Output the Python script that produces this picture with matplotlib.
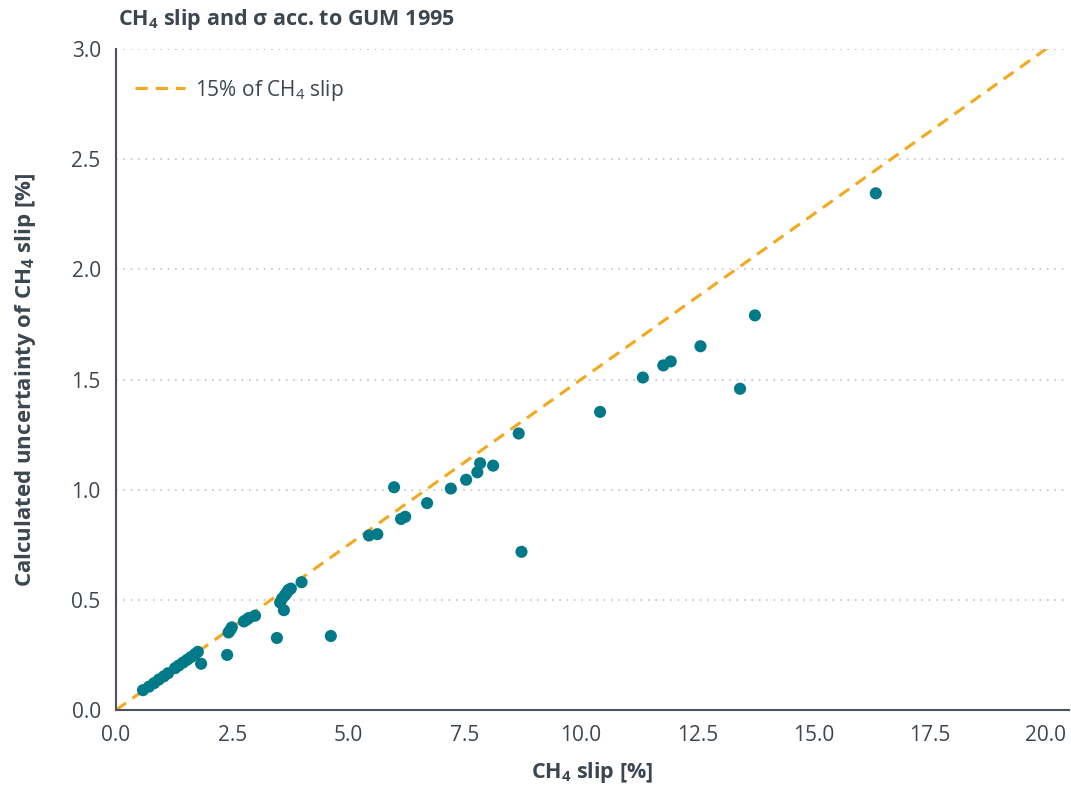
import matplotlib
matplotlib.use("Agg")
import matplotlib.pyplot as plt

plt.rcParams["font.family"] = ["Open Sans", "DejaVu Sans"]
plt.rcParams["mathtext.fontset"] = "custom"
plt.rcParams["mathtext.rm"] = "Open Sans"
plt.rcParams["mathtext.it"] = "Open Sans"
plt.rcParams["mathtext.bf"] = "Open Sans:bold"

# CH4 slip [%] and its calculated uncertainty [%]
slip = [
    0.58, 0.71, 0.82, 0.92, 1.03, 1.12, 1.27, 1.35, 1.44, 1.53, 1.61, 1.70,
    1.76, 1.83,
    2.39, 2.42, 2.46, 2.49, 2.75, 2.81, 2.86, 2.99,
    3.46, 3.53, 3.57, 3.61, 3.63, 3.67, 3.71, 3.76, 3.99, 4.62,
    5.44, 5.62, 5.98, 6.13, 6.22, 6.69, 7.20, 7.53, 7.77, 7.83, 8.11,
    8.66, 8.72,
    10.41, 11.33, 11.77, 11.93, 12.57, 13.42, 13.74, 16.34,
]
sigma = [
    0.090, 0.106, 0.122, 0.138, 0.153, 0.167, 0.190, 0.202, 0.215, 0.228,
    0.240, 0.254, 0.264, 0.210,
    0.250, 0.352, 0.364, 0.375, 0.402, 0.410, 0.418, 0.428,
    0.327, 0.488, 0.505, 0.453, 0.520, 0.532, 0.545, 0.551, 0.580, 0.336,
    0.792, 0.798, 1.011, 0.867, 0.877, 0.939, 1.005, 1.045, 1.079, 1.120,
    1.109, 1.255, 0.718,
    1.353, 1.509, 1.564, 1.582, 1.651, 1.458, 1.791, 2.345,
]

# reference line: 15 % of the slip
ref_slip = [0.0, 20.0]
ref_share = 0.15

x_ticks = [0.0, 2.5, 5.0, 7.5, 10.0, 12.5, 15.0, 17.5, 20.0]
y_ticks = [0.0, 0.5, 1.0, 1.5, 2.0, 2.5, 3.0]

TEXT = "#3c4650"
TEAL = "#007a88"
ORANGE = "#f4a81d"

W, H = 1071, 787
fig = plt.figure(figsize=(W / 100, H / 100), dpi=100)
ax = fig.add_axes([116 / W, 1 - 710 / H, (1069 - 116) / W, (710 - 49) / H])

ax.set_xlim(0, (1069 - 116) / 46.5)
ax.set_ylim(0, 3.0)

for yv in y_ticks[1:]:
    ax.axhline(yv, color="#c8c8c8", lw=1.4, ls=(0, (0.8, 3.0)), zorder=1)

ax.plot(ref_slip, [ref_share * v for v in ref_slip], color=ORANGE, lw=2.2,
        dashes=(4.0, 2.6), zorder=2, label="15% of CH$_4$ slip")
ax.scatter(slip, sigma, s=76, color=TEAL, edgecolors="none", zorder=3)

ax.set_xticks(x_ticks)
ax.set_yticks(y_ticks)
ax.set_xticklabels([f"{v:.1f}" for v in x_ticks])
ax.set_yticklabels([f"{v:.1f}" for v in y_ticks])
ax.tick_params(length=0, labelsize=15, colors=TEXT, pad=11)

for side in ("top", "right"):
    ax.spines[side].set_visible(False)
for side in ("left", "bottom"):
    ax.spines[side].set_color("#4a5560")
    ax.spines[side].set_linewidth(1.5)

ax.set_xlabel(r"CH$_\mathbf{4}$ slip [%]", fontsize=15.5, color=TEXT,
              fontweight="bold", labelpad=10)
ax.set_ylabel(r"Calculated uncertainty of CH$_\mathbf{4}$ slip [%]",
              fontsize=16, color=TEXT, fontweight="bold", labelpad=24)

fig.text(118 / W, 1 - 20 / H, r"CH$_\mathbf{4}$ slip and σ acc. to GUM 1995",
         fontsize=15.5, fontweight="bold", color=TEXT, va="center", ha="left")

leg = ax.legend(loc="upper left", bbox_to_anchor=(0.0, 0.985), frameon=False,
                fontsize=15, handlelength=2.4, handletextpad=0.5)
for t in leg.get_texts():
    t.set_color(TEXT)

fig.savefig("out.png", dpi=100)
